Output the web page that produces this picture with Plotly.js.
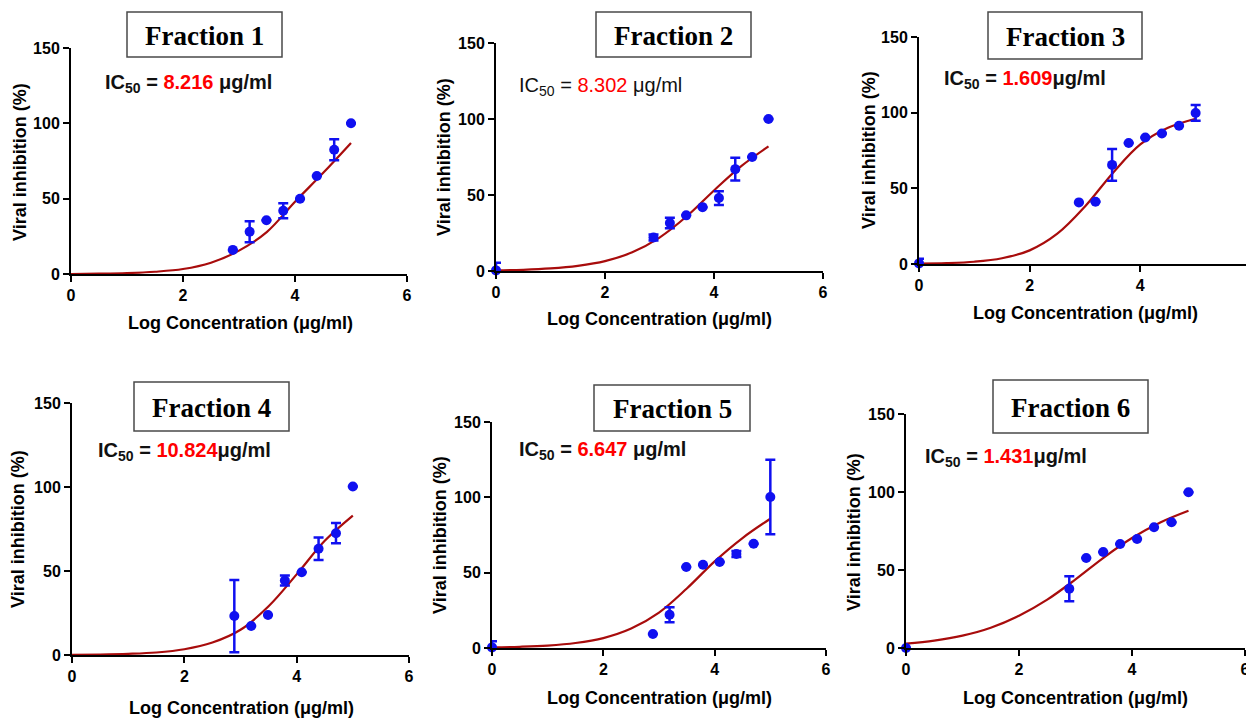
<!DOCTYPE html>
<html><head><meta charset="utf-8">
<script src="https://cdn.plot.ly/plotly-3.0.1.min.js"></script>
<style>html,body{margin:0;padding:0;background:#fff}#chart{width:1246px;height:719px}</style>
</head><body><div id="chart"></div>
<script>
// ---------- data ----------
const doseX = [2.89, 3.19, 3.49, 3.79, 4.09, 4.39, 4.70, 5.00];
const fitX  = [0, 0.5, 1, 1.5, 2, 2.5, 3, 3.5, 4, 4.5, 5];

const f1X = doseX;
const f1Y = [16, 28, 35.7, 42, 50, 65, 82.5, 100];
const f1E = [null, 7, null, 5, null, null, 7, null];
const f1Fit = [0, 0.2, 0.6, 1.5, 3.3, 7.5, 15.5, 28, 48, 67, 87];

const f2X = [0].concat(doseX);
const f2Y = [0.4, 22, 31.6, 36.6, 42, 48, 67, 75, 100];
const f2E = [5, 2, 3.5, null, null, 4.5, 7.5, null, null];
const f2Fit = [0.4, 0.8, 1.7, 3.4, 6.5, 12.3, 22, 36, 53, 69, 82];

const f3X = [0].concat(doseX);
const f3Y = [0.4, 40.7, 41.1, 65.5, 80, 83.6, 86.2, 91.3, 99.8];
const f3E = [3, null, null, 10.5, null, null, null, null, 5.2];
const f3Fit = [0.3, 0.6, 1.5, 3.8, 9, 20, 38, 60, 79, 90, 96];

const f4X = doseX;
const f4Y = [23.2, 17.3, 23.8, 44.3, 49.3, 63.2, 72.5, 100.3];
const f4E = [21.5, null, null, 3, null, 6.7, 6, null];
const f4Fit = [0.1, 0.3, 0.7, 1.5, 3.4, 7.4, 15, 29, 48, 68, 83];

const f5X = [0].concat(doseX);
const f5Y = [0.4, 9.3, 22.1, 53.8, 55.3, 57.1, 62.4, 69.2, 100.2];
const f5E = [4, null, 5, null, null, null, 2, null, 24.7];
const f5Fit = [0.4, 0.8, 1.6, 3.3, 6.6, 12.9, 23.5, 39.5, 57.5, 73, 85.8];

const f6X = [0].concat(doseX);
const f6Y = [0, 38, 57.7, 61.5, 66.7, 69.9, 77.4, 80.6, 99.8];
const f6E = [null, 8, null, null, null, null, null, null, null];
const f6Fit = [2.8, 4.7, 7.9, 13, 20.7, 31, 44, 58, 70.5, 80.5, 88];

const titles = ['Fraction 1','Fraction 2','Fraction 3','Fraction 4','Fraction 5','Fraction 6'];
const ic50 = ['8.216','8.302','1.609','10.824','6.647','1.431'];
const ic50Gap = [' ',' ','','',' ',''];
const xTicks = [0, 2, 4, 6];
const yTicks = [0, 50, 100, 150];
const xTitle = 'Log Concentration (\u03bcg/ml)';
const yTitle = 'Viral inhibition (%)';

// ---------- layout geometry (pixels) ----------
const W = 1246, H = 719;
const P = [
  {x0:71,  x1:407,  yb:274, yt:48,  xmax:6,    box:[127,282,12,57],  ic:[103,83],  xt:[240,323], yt2:[20,162],  icBold:true},
  {x0:496, x1:823,  yb:271, yt:43,  xmax:6,    box:[596,751,12,57],  ic:[517,86],  xt:[659,319], yt2:[444,157], icBold:false},
  {x0:919, x1:1246, yb:264, yt:37,  xmax:5.91, box:[988,1142,12,59], ic:[942,80],  xt:[1085,313],yt2:[869,150], icBold:true},
  {x0:72,  x1:409,  yb:655, yt:403, xmax:6,    box:[134,289,382,431],ic:[96,452],  xt:[241,708], yt2:[18,529],  icBold:true},
  {x0:492, x1:826,  yb:648, yt:422, xmax:6,    box:[594,750,385,431],ic:[517,450], xt:[659,698], yt2:[440,535], icBold:true},
  {x0:906, x1:1245, yb:648, yt:414, xmax:6,    box:[993,1148,380,433],ic:[923,457],xt:[1075,698],yt2:[854,532], icBold:true}
];
const px = v => v / W, py = v => 1 - v / H;

const series = [
  [f1X, f1Y, f1E, f1Fit], [f2X, f2Y, f2E, f2Fit], [f3X, f3Y, f3E, f3Fit],
  [f4X, f4Y, f4E, f4Fit], [f5X, f5Y, f5E, f5Fit], [f6X, f6Y, f6E, f6Fit]
];

const SANS = 'Liberation Sans, Arial, sans-serif';
const SERIF = 'Liberation Serif, Times New Roman, serif';
const BLUE = '#1010f0';
const RED = '#a80c0c';

const traces = [];
const layout = {
  width: W, height: H, margin: {l:0, r:0, t:0, b:0},
  paper_bgcolor: '#fff', plot_bgcolor: 'rgba(0,0,0,0)',
  showlegend: false, shapes: [], annotations: []
};

series.forEach((s, i) => {
  const n = i === 0 ? '' : String(i + 1);
  const p = P[i];
  traces.push({
    x: fitX, y: s[3], xaxis: 'x' + n, yaxis: 'y' + n, type: 'scatter', mode: 'lines',
    line: {color: RED, width: 2.2, shape: 'spline'}, cliponaxis: false, hoverinfo: 'skip'
  });
  traces.push({
    x: s[0], y: s[1], xaxis: 'x' + n, yaxis: 'y' + n, type: 'scatter', mode: 'markers',
    marker: {color: BLUE, size: 10},
    error_y: {type: 'data', array: s[2], visible: true, color: BLUE, thickness: 2.5, width: 5},
    cliponaxis: false
  });
  const axBase = {
    showgrid: false, zeroline: false, showline: true, linecolor: '#000', linewidth: 2,
    ticks: 'outside', ticklen: 6, tickwidth: 2, tickcolor: '#000', ticklabeloverflow: 'allow',
    tickfont: {family: SANS, size: 16, color: '#000', weight: 'bold'}, fixedrange: true
  };
  layout['xaxis' + n] = Object.assign({}, axBase, {
    domain: [px(p.x0), px(p.x1)], range: [0, p.xmax], anchor: 'y' + n,
    tickvals: xTicks, ticktext: xTicks.map(String)
  });
  layout['yaxis' + n] = Object.assign({}, axBase, {
    domain: [py(p.yb), py(p.yt)], range: [0, 150], anchor: 'x' + n,
    tickvals: yTicks, ticktext: yTicks.map(String)
  });
  // title box
  layout.shapes.push({type: 'rect', xref: 'paper', yref: 'paper',
    x0: px(p.box[0]), x1: px(p.box[1]), y0: py(p.box[3]), y1: py(p.box[2]),
    line: {color: '#4a4a4a', width: 1.5}, fillcolor: '#fff'});
  layout.annotations.push({xref: 'paper', yref: 'paper', showarrow: false,
    x: px((p.box[0] + p.box[1]) / 2), y: py((p.box[2] + p.box[3]) / 2 + 1),
    xanchor: 'center', yanchor: 'middle', text: titles[i],
    font: {family: SERIF, size: 27, color: '#000', weight: 'bold'}});
  // IC50 label
  layout.annotations.push({xref: 'paper', yref: 'paper', showarrow: false,
    x: px(p.ic[0]), y: py(p.ic[1]), xanchor: 'left', yanchor: 'middle',
    text: 'IC<sub>50</sub> = <span style="color:#ff0000">' + ic50[i] + '</span>' + ic50Gap[i] + '\u03bcg/ml',
    font: {family: SANS, size: 20, color: '#111', weight: p.icBold ? 'bold' : 'normal'}});
  // axis titles
  layout.annotations.push({xref: 'paper', yref: 'paper', showarrow: false,
    x: px(p.xt[0]), y: py(p.xt[1]), xanchor: 'center', yanchor: 'middle', text: xTitle,
    font: {family: SANS, size: 18, color: '#000', weight: 'bold'}});
  layout.annotations.push({xref: 'paper', yref: 'paper', showarrow: false,
    x: px(p.yt2[0]), y: py(p.yt2[1]), xanchor: 'center', yanchor: 'middle', text: yTitle,
    textangle: -90, font: {family: SANS, size: 18, color: '#000', weight: 'bold'}});
});

Plotly.newPlot('chart', traces, layout, {displayModeBar: false, staticPlot: true});
</script>
</body></html>
